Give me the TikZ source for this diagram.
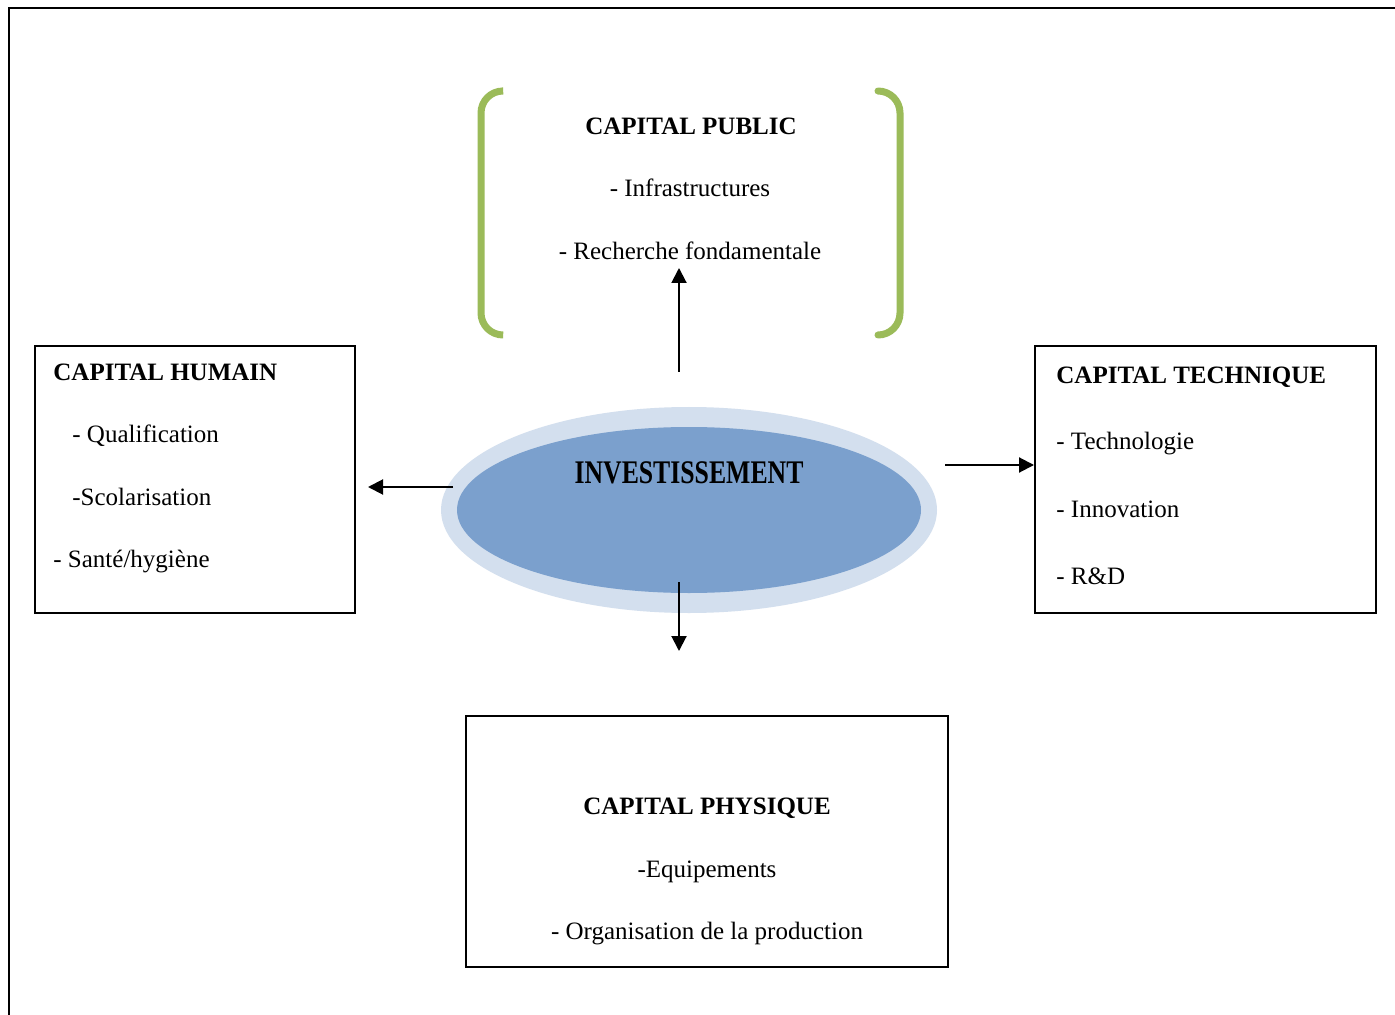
\documentclass[tikz,border=0pt]{standalone}
\usepackage{fontspec}
\setmainfont{Liberation Serif}
\usetikzlibrary{arrows.meta,shapes.geometric}
\definecolor{brackgreen}{HTML}{9BBB59}
\definecolor{ellout}{HTML}{D3DFEE}
\definecolor{ellin}{HTML}{7BA0CD}
\begin{document}
\begin{tikzpicture}[x=0.5pt,y=-0.5pt,
  font=\fontsize{12.5pt}{15pt}\selectfont,
  box/.style={draw=black, line width=1pt, inner sep=0pt},
  bracketline/.style={draw=brackgreen, line width=3.5pt, line cap=round, rounded corners=11pt},
  arr/.style={line width=1pt, -{Triangle[length=7.5pt,width=7.5pt]}},
  lbl/.style={inner sep=0pt, anchor=base west},
  clbl/.style={inner sep=0pt, anchor=base},
  ttl/.style={inner sep=0pt, font=\fontsize{12.5pt}{15pt}\selectfont\bfseries}
]
\useasboundingbox (0,0) rectangle (1395,1015);
\fill[white] (0,0) rectangle (1395,1015);
% outer frame
\draw[line width=1pt] (9,1015) -- (9,8) -- (1395,8);

% green brackets
\draw[bracketline] (502,91) -- (481,91) -- (481,335) -- (502,335);
\draw[bracketline] (878,91) -- (900,91) -- (900,335) -- (878,335);

% capital public texts
\node[ttl, anchor=base] (pubt) at (691,135) {CAPITAL PUBLIC};
\node[clbl] (pub1) at (690,197) {- Infrastructures};
\node[clbl] (pub2) at (690,260) {- Recherche fondamentale};

% ellipse
\node[ellipse, fill=ellout, minimum width=248pt, minimum height=103pt, inner sep=0pt] (invout) at (689,510) {};
\node[ellipse, fill=ellin, minimum width=232pt, minimum height=83pt, inner sep=0pt] (invin) at (689,510) {};
\node[inner sep=0pt, anchor=base] (invt) at (689,483)
  {\scalebox{0.78}[1]{\fontsize{16.5pt}{19pt}\selectfont\bfseries INVESTISSEMENT}};

% capital humain
\node[box, minimum width=160pt, minimum height=133.5pt] (humain) at (195,479.5) {};
\node[ttl, anchor=base west] (humt) at (53,381) {CAPITAL HUMAIN};
\node[lbl] (hum1) at (72,443) {- Qualification};
\node[lbl] (hum2) at (72,505) {-Scolarisation};
\node[lbl] (hum3) at (53,567) {- Santé/hygiène};

% capital technique
\node[box, minimum width=170.5pt, minimum height=133.5pt] (tech) at (1205.5,479.5) {};
\node[ttl, anchor=base west] (techt) at (1056,384) {CAPITAL TECHNIQUE};
\node[lbl] (tech1) at (1056,450) {- Technologie};
\node[lbl] (tech2) at (1056,517) {- Innovation};
\node[lbl] (tech3) at (1056,584) {- R\&D};

% capital physique
\node[box, minimum width=241pt, minimum height=125.5pt] (phys) at (707,841.5) {};
\node[ttl, anchor=base] (physt) at (707,814) {CAPITAL PHYSIQUE};
\node[clbl] (phys1) at (707,877) {-Equipements};
\node[clbl] (phys2) at (707,939) {- Organisation de la production};

% arrow coordinates
\coordinate (upS) at (679,372);
\coordinate (upE) at (679,268);
\coordinate (lS) at (453,487);
\coordinate (lE) at (368,487);
\coordinate (rS) at (945,465);
\coordinate (dS) at (679,582);
\coordinate (dE) at (679,651);

\draw[arr] (upS) -- (upE);
\draw[arr] (lS) -- (lE);
\draw[arr] (rS) -- (rS -| tech.west);
\draw[arr] (dS) -- (dE);
\end{tikzpicture}
\end{document}
